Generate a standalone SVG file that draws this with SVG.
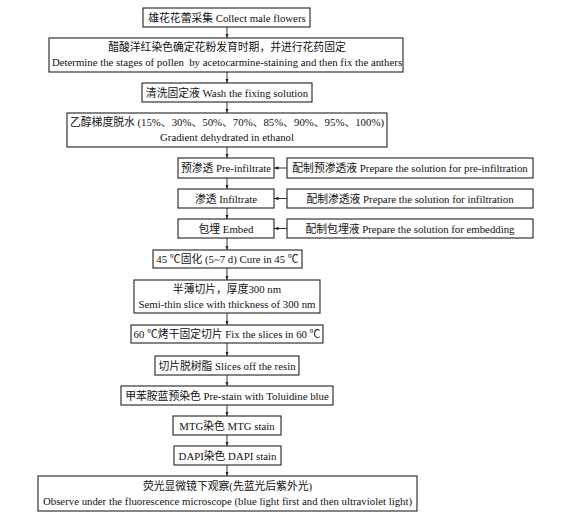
<svg xmlns="http://www.w3.org/2000/svg" width="564" height="519" viewBox="0 0 564 519">
<style>
.b{fill:#fff;stroke:#222;stroke-width:1.1}
text{font-family:"Liberation Serif","Noto Sans CJK SC",serif;font-size:10.8px;fill:#111;text-anchor:middle}
.p{white-space:pre}
.c{stroke:#222;stroke-width:0.9;fill:none;marker-end:url(#a)}
</style>
<defs>
<marker id="a" viewBox="0 0 8 6" refX="8" refY="3" markerWidth="4.5" markerHeight="3.4" orient="auto" markerUnits="userSpaceOnUse"><path d="M0,0 L8,3 L0,6 Z" fill="#222"/></marker>
</defs>
<rect width="564" height="519" fill="#fff"/>
<g id="connectors">
<line class="c" x1="227" y1="27" x2="227" y2="38"/>
<line class="c" x1="227" y1="72" x2="227" y2="83"/>
<line class="c" x1="227" y1="102" x2="227" y2="113"/>
<line class="c" x1="227" y1="147" x2="227" y2="158"/>
<line class="c" x1="227" y1="178" x2="227" y2="189"/>
<line class="c" x1="227" y1="208" x2="227" y2="219"/>
<line class="c" x1="227" y1="238" x2="227" y2="250"/>
<line class="c" x1="227" y1="268" x2="227" y2="280"/>
<line class="c" x1="227" y1="313" x2="227" y2="325"/>
<line class="c" x1="227" y1="343" x2="227" y2="356"/>
<line class="c" x1="227" y1="375" x2="227" y2="386"/>
<line class="c" x1="227" y1="405" x2="227" y2="416"/>
<line class="c" x1="227" y1="435" x2="227" y2="446"/>
<line class="c" x1="227" y1="465" x2="227" y2="476"/>
<line class="c" x1="287" y1="168" x2="274" y2="168"/>
<line class="c" x1="287" y1="198.5" x2="274" y2="198.5"/>
<line class="c" x1="287" y1="228.5" x2="274" y2="228.5"/>
</g>
<g id="n1"><rect class="b" x="143" y="8" width="167" height="19"/><text x="227" y="21.5">雄花花蕾采集 Collect male flowers</text></g>
<g id="n2"><rect class="b" x="49" y="38" width="354" height="34"/><text x="227" y="51">醋酸洋红染色确定花粉发育时期，并进行花药固定</text><text class="p" x="227" y="66" xml:space="preserve">Determine the stages of pollen  by acetocarmine-staining and then fix the anthers</text></g>
<g id="n3"><rect class="b" x="142" y="83" width="170" height="19"/><text x="227" y="96.5">清洗固定液 Wash the fixing solution</text></g>
<g id="n4"><rect class="b" x="67" y="113" width="320" height="34"/><text x="227" y="126">乙醇梯度脱水 (15%、30%、50%、70%、85%、90%、95%、100%)</text><text x="227" y="141">Gradient dehydrated in ethanol</text></g>
<g id="n5"><rect class="b" x="178" y="158" width="96" height="20"/><text x="226" y="172">预渗透 Pre-infiltrate</text></g>
<g id="n5r"><rect class="b" x="287" y="158" width="246" height="20"/><text x="410" y="172">配制预渗透液 Prepare the solution for pre-infiltration</text></g>
<g id="n6"><rect class="b" x="178" y="189" width="96" height="19"/><text x="226" y="202.5">渗透 Infiltrate</text></g>
<g id="n6r"><rect class="b" x="287" y="189" width="246" height="19"/><text x="410" y="202.5">配制渗透液 Prepare the solution for infiltration</text></g>
<g id="n7"><rect class="b" x="178" y="219" width="96" height="19"/><text x="226" y="232.5">包埋 Embed</text></g>
<g id="n7r"><rect class="b" x="287" y="219" width="246" height="19"/><text x="410" y="232.5">配制包埋液 Prepare the solution for embedding</text></g>
<g id="n8"><rect class="b" x="153" y="250" width="149" height="18"/><text x="227.5" y="263">45 ℃固化 (5~7 d) Cure in 45 ℃</text></g>
<g id="n9"><rect class="b" x="134" y="280" width="186" height="33"/><text x="227" y="293">半薄切片，厚度300 nm</text><text x="227" y="308">Semi-thin slice with thickness of 300 nm</text></g>
<g id="n10"><rect class="b" x="131" y="325" width="192" height="18"/><text x="227" y="338">60 ℃烤干固定切片 Fix the slices in 60 ℃</text></g>
<g id="n11"><rect class="b" x="155" y="356" width="144" height="19"/><text x="227" y="369.5">切片脱树脂 Slices off the resin</text></g>
<g id="n12"><rect class="b" x="121" y="386" width="212" height="19"/><text x="227" y="399.5">甲苯胺蓝预染色 Pre-stain with Toluidine blue</text></g>
<g id="n13"><rect class="b" x="173" y="416" width="108" height="19"/><text x="227" y="429.5">MTG染色 MTG stain</text></g>
<g id="n14"><rect class="b" x="174" y="446" width="107" height="19"/><text x="227.5" y="459.5">DAPI染色 DAPI stain</text></g>
<g id="n15"><rect class="b" x="38" y="476" width="379" height="35"/><text x="227.5" y="489.5">荧光显微镜下观察(先蓝光后紫外光)</text><text x="227.5" y="505">Observe under the fluorescence microscope (blue light first and then ultraviolet light)</text></g>
</svg>
